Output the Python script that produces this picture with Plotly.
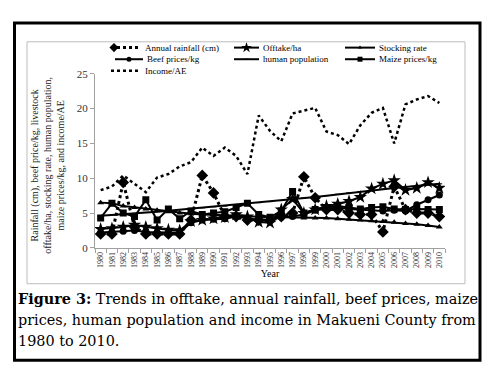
import plotly.graph_objects as go

W, H = 489, 371

years = [str(y) for y in range(1980, 2011)]
rainfall = [2.0, 2.0, 9.4, 3.0, 2.0, 2.0, 2.0, 2.0, 4.0, 10.4, 7.9, 4.5, 4.5, 4.0, 4.0, 4.0,
            4.5, 5.0, 10.2, 7.2, 5.5, 5.5, 5.0, 4.8, 4.8, 2.3, 8.8, 5.5, 5.0, 5.0, 4.5]
offtake = [2.7, 2.8, 3.0, 3.3, 3.0, 2.8, 2.6, 2.5, 3.8, 4.0, 4.2, 4.4, 4.8, 4.5, 3.7, 3.6,
           5.5, 7.0, 5.0, 5.5, 6.0, 6.3, 6.7, 7.3, 8.5, 9.2, 9.7, 8.3, 8.6, 9.4, 8.6]
stocking = [6.5, 6.4, 6.0, 5.8, 5.6, 5.4, 5.2, 5.0, 4.9, 4.8, 4.8, 4.7, 4.6, 4.5, 4.5, 4.4,
            4.4, 4.4, 4.3, 4.3, 4.3, 4.2, 4.1, 4.0, 3.9, 3.8, 3.7, 3.5, 3.4, 3.2, 3.0]
beef = [2.2, 2.3, 2.4, 2.5, 2.3, 2.2, 2.2, 2.2, 3.6, 4.0, 4.1, 4.2, 4.5, 4.2, 4.0, 4.0,
        4.4, 4.5, 4.8, 5.4, 5.6, 5.8, 5.6, 5.5, 5.4, 5.3, 5.4, 5.3, 6.2, 6.9, 7.6]
population = [4.6, 4.7, 4.8, 4.95, 5.1, 5.2, 5.35, 5.5, 5.6, 5.75, 5.9, 6.0, 6.15, 6.3, 6.5, 6.65,
              6.8, 7.0, 7.15, 7.3, 7.5, 7.7, 7.9, 8.1, 8.3, 8.45, 8.6, 8.75, 8.9, 9.05, 9.2]
maize = [4.3, 6.4, 5.0, 4.5, 6.9, 4.0, 5.6, 4.2, 5.3, 4.8, 5.0, 5.2, 5.8, 6.4, 4.8, 4.4,
         5.3, 8.1, 5.0, 5.5, 5.8, 6.0, 5.8, 5.6, 5.8, 5.9, 5.6, 5.5, 5.6, 5.5, 5.5]
income = [8.3, 8.8, 10.4, 9.2, 8.0, 10.1, 10.6, 11.7, 12.3, 14.4, 13.2, 14.4, 13.2, 10.6, 19.0, 16.8,
          15.3, 19.3, 19.7, 20.1, 16.7, 16.2, 14.9, 17.6, 19.4, 20.1, 15.0, 20.6, 21.3, 21.8, 20.8]

names = ["Annual rainfall (cm)", "Offtake/ha", "Stocking rate",
         "Beef prices/kg", "human population", "Maize prices/kg", "Income/AE"]

SERIF = "Liberation Serif, Times New Roman, serif"
CAPF = "DejaVu Serif, serif"
BLACK = "#000000"

styles = {
    "Annual rainfall (cm)": dict(line=dict(color=BLACK, width=3, dash="dot"),
                                 marker=dict(symbol="diamond", size=9, color=BLACK), mode="lines+markers"),
    "Offtake/ha": dict(line=dict(color=BLACK, width=2),
                       marker=dict(symbol="star", size=10, color=BLACK), mode="lines+markers"),
    "Stocking rate": dict(line=dict(color=BLACK, width=2),
                          marker=dict(symbol="triangle-up", size=6, color=BLACK), mode="lines+markers"),
    "Beef prices/kg": dict(line=dict(color=BLACK, width=2),
                           marker=dict(symbol="circle", size=7, color=BLACK), mode="lines+markers"),
    "human population": dict(line=dict(color=BLACK, width=2),
                             marker=dict(symbol="line-ew", size=4, color=BLACK,
                                         line=dict(width=1, color=BLACK)), mode="lines+markers"),
    "Maize prices/kg": dict(line=dict(color=BLACK, width=2),
                            marker=dict(symbol="square", size=7, color=BLACK), mode="lines+markers"),
    "Income/AE": dict(line=dict(color=BLACK, width=2.5, dash="dot"), mode="lines"),
}

series = {
    "Annual rainfall (cm)": rainfall, "Offtake/ha": offtake, "Stocking rate": stocking,
    "Beef prices/kg": beef, "human population": population, "Maize prices/kg": maize,
    "Income/AE": income,
}

fig = go.Figure()
draw_order = ["Income/AE", "Stocking rate", "human population", "Beef prices/kg",
              "Maize prices/kg", "Offtake/ha", "Annual rainfall (cm)"]
for nm in draw_order:
    fig.add_trace(go.Scatter(x=years, y=series[nm], name=nm, showlegend=False,
                             xaxis="x", yaxis="y", **styles[nm]))

# compact legend drawn on a pixel-space helper axis
leg_pos = {  # (sample x0, sample x1, row y)
    "Annual rainfall (cm)": (111, 141, 43),
    "Offtake/ha": (234, 259, 43),
    "Stocking rate": (345, 375, 43),
    "Beef prices/kg": (115, 143, 55),
    "human population": (234, 259, 55),
    "Maize prices/kg": (345, 375, 55),
    "Income/AE": (111, 141, 67),
}
for nm in names:
    x0, x1, yy = leg_pos[nm]
    st = styles[nm]
    fig.add_trace(go.Scatter(x=[x0, x1], y=[yy, yy], mode="lines", line=st["line"],
                             xaxis="x2", yaxis="y2", showlegend=False, hoverinfo="skip"))
    if "marker" in st:
        mk = dict(st["marker"])
        mk["size"] = max(4, mk["size"] - 2)
        mx = x0 + 3 if nm == "Annual rainfall (cm)" else (x0 + x1) / 2
        fig.add_trace(go.Scatter(x=[mx], y=[yy], mode="markers", marker=mk,
                                 xaxis="x2", yaxis="y2", showlegend=False, hoverinfo="skip"))
    fig.add_annotation(x=x1 + 2, y=yy, xref="x2", yref="y2", text=nm, showarrow=False,
                       xanchor="left", yanchor="middle", font=dict(family=SERIF, size=9, color=BLACK))

fig.update_layout(
    width=W, height=H, margin=dict(l=0, r=0, t=0, b=0),
    paper_bgcolor="white", plot_bgcolor="rgba(0,0,0,0)", showlegend=False,
    xaxis=dict(domain=[95 / W, 445 / W], type="category", range=[-0.5, 30.5], tickangle=-90,
               tickfont=dict(family=SERIF, size=8, color="#333"),
               showline=True, linecolor="#a0a0a0", linewidth=1, ticks="outside",
               ticklen=4, tickcolor="#a0a0a0", tickson="boundaries", showgrid=False, zeroline=False,
               title=dict(text="Year", font=dict(family=SERIF, size=10, color=BLACK), standoff=2),
               anchor="y"),
    yaxis=dict(domain=[1 - 250 / H, 1 - 70 / H], range=[0, 25], dtick=5,
               tickfont=dict(family=SERIF, size=11, color="#333"),
               showline=True, linecolor="#a0a0a0", linewidth=1, ticks="outside",
               ticklen=4, tickcolor="#a0a0a0", showgrid=False, zeroline=False, anchor="x"),
    xaxis2=dict(domain=[0, 1], range=[0, W], visible=False, anchor="y2", fixedrange=True),
    yaxis2=dict(domain=[0, 1], range=[H, 0], visible=False, anchor="x2", fixedrange=True),
)

# y-axis title (three lines)
fig.add_annotation(x=48 / W, y=1 - 165 / H, xref="paper", yref="paper", textangle=-90,
                   xanchor="center", yanchor="middle",
                   text="Rainfall (cm), beef price/kg, livestock<br>offtake/ha, stocking rate, human population,<br>maize prices/kg, and income/AE",
                   showarrow=False, font=dict(family=SERIF, size=10, color="#222"), align="center")

# frames
fig.add_shape(type="rect", xref="paper", yref="paper", x0=27 / W, x1=465 / W,
              y0=1 - 287 / H, y1=1 - 37 / H, line=dict(color="#bdbdbd", width=1))
fig.add_shape(type="rect", xref="paper", yref="paper", x0=14.5 / W, x1=480 / W,
              y0=1 - 366 / H, y1=1 - 17.5 / H, line=dict(color=BLACK, width=3))

# caption
cap = ["<b>Figure 3:</b> Trends in offtake, annual rainfall, beef prices, maize",
       "prices, human population and income in Makueni County from",
       "1980 to 2010."]
for i, t in enumerate(cap):
    fig.add_annotation(x=16 / W, y=1 - (302 + 22 * i) / H, xref="paper", yref="paper",
                       text=t, showarrow=False, xanchor="left", yanchor="middle",
                       font=dict(family=CAPF, size=14.4, color=BLACK))

fig.write_html("out.html", config={"displayModeBar": False},
               post_script="document.body.style.margin='0';document.body.style.overflow='hidden';")
